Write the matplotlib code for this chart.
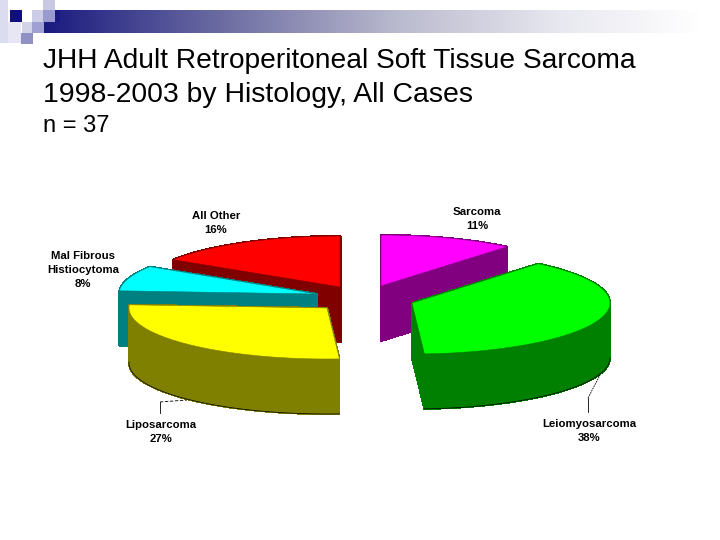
import numpy as np
import matplotlib
matplotlib.use("Agg")
import matplotlib.pyplot as plt

plt.rcParams['font.family'] = ['Liberation Sans', 'DejaVu Sans']

labels = ["Sarcoma", "Leiomyosarcoma", "Liposarcoma", "Mal Fibrous\nHistiocytoma", "All Other"]
shares = [11, 38, 27, 8, 16]

top_colors = ["#FF00FF", "#00FF00", "#FFFF00", "#00FFFF", "#FF0000"]
side_colors = ["#800080", "#008000", "#808000", "#008080", "#800000"]
# where each slice tip ended up after the pie was pulled apart (pixels)
tips = [(381, 286), (412, 303), (327, 308), (317, 294), (340, 287)]
label_pos = [(477, 219), (589, 431), (161, 432), (83, 270), (216, 223)]
draw_order = [4, 0, 3, 1, 2]
dark_rim = [1, 2]

RX, RY, DEPTH = 198, 51, 55

fig = plt.figure(figsize=(7.2, 5.4), dpi=100)
ax = fig.add_axes([0, 0, 1, 1])

# header band and the corner squares
stop_x = [44, 230, 400, 560, 700]
stop_rgb = np.array([[0x1a, 0x1a, 0x80], [0x70, 0x70, 0xa4], [0xbb, 0xbb, 0xcf],
                     [0xe8, 0xe8, 0xf0], [0xff, 0xff, 0xff]]) / 255
band_x = np.arange(44, 700)
rgb = np.stack([np.interp(band_x, stop_x, stop_rgb[:, c]) for c in range(3)], axis=-1)[None, ...]
ax.imshow(rgb, extent=(44, 700, 33, 10), aspect='auto', zorder=1)
for x, y, w, h, c in [(0, 0, 8, 43, "#dcdcf0"), (8, 22, 13, 21, "#e6e6f4"),
                      (10, 10, 12, 12, "#10107c"), (32, 10, 11, 12, "#cccce6"),
                      (43, 0, 12, 10, "#c8c8e2"), (43, 10, 12, 12, "#9a9ace"),
                      (22, 22, 10, 11, "#d2d2e8"), (32, 22, 12, 11, "#a0a0d2"),
                      (21, 33, 12, 11, "#9090c4"), (55, 10, 5, 12, "#1a1a80")]:
    ax.fill([x, x + w, x + w, x], [y, y, y + h, y + h], color=c, lw=0, zorder=2)
ax.set_xlim(0, 720)
ax.set_ylim(540, 0)
ax.axis('off')

ax.text(43, 61, "JHH Adult Retroperitoneal Soft Tissue Sarcoma", fontsize=20.25, va='center', ha='left')
ax.text(43, 95, "1998-2003 by Histology, All Cases", fontsize=20.4, va='center', ha='left')
ax.text(43, 126, "n = 37", fontsize=17, va='center', ha='left')

bounds = np.cumsum([0] + shares) / sum(shares) * 2 * np.pi
for i in draw_order:
    t = np.linspace(bounds[i], bounds[i + 1], 80)
    cx, cy = tips[i]
    xs = np.r_[cx, cx + RX * np.sin(t)]
    ys = np.r_[cy, cy - RY * np.cos(t)]
    # walls first, each edge of the outline swept down by the depth
    for j in range(len(xs)):
        k = (j + 1) % len(xs)
        ax.fill([xs[j], xs[k], xs[k], xs[j]],
                [ys[j], ys[k], ys[k] + DEPTH, ys[j] + DEPTH],
                facecolor=side_colors[i], edgecolor=side_colors[i], lw=0.8,
                antialiased=False, zorder=3)
    if i in dark_rim:
        # only the front half of the lower rim can be seen
        front = np.cos(t) < 0.02
        ax.plot(cx + RX * np.sin(t[front]), cy - RY * np.cos(t[front]) + DEPTH,
                color='black', lw=0.5, zorder=3)
    ax.fill(xs, ys, facecolor=top_colors[i], edgecolor=side_colors[i], lw=0.4, zorder=3)

# leader lines
ax.plot([160, 160], [413, 402], color='black', lw=0.6, zorder=4)
ax.plot([160, 187], [402, 400], color='black', lw=0.6, ls=(0, (4, 2)), zorder=4)
ax.plot([588, 588], [412, 398], color='black', lw=0.6, zorder=4)
ax.plot([588, 600], [398, 375], color='black', lw=0.6, ls=(0, (2, 1)), zorder=4)

for name, share, (x, y) in zip(labels, shares, label_pos):
    ax.text(x, y, f"{name}\n{share}%", fontsize=8.2, fontweight='bold',
            ha='center', va='center', linespacing=1.55, zorder=5)

fig.savefig("out.png", dpi=100)
